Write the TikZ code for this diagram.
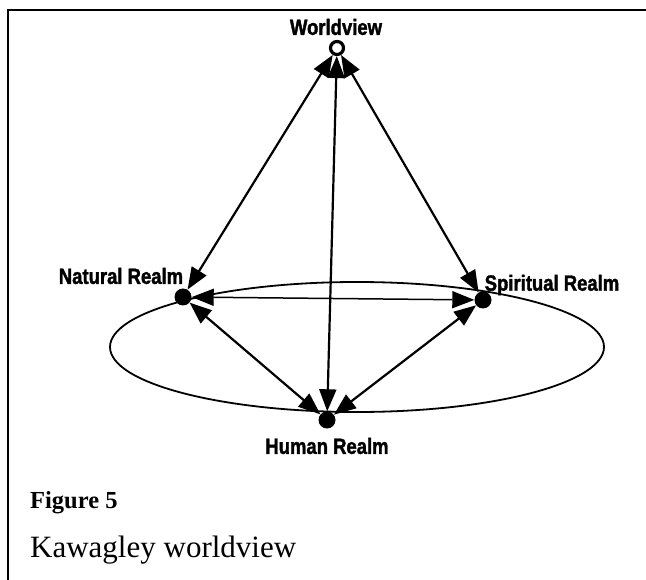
\documentclass[tikz,border=0pt]{standalone}
\usepackage{fontspec}
\setmainfont{Liberation Serif}
\newfontfamily\labfont[FakeStretch=0.84,FakeBold=1.6]{Liberation Sans}
\usetikzlibrary{arrows.meta}
\begin{document}
\begin{tikzpicture}[x=1pt,y=-1pt,
  lab/.style={font=\labfont\bfseries\fontsize{22}{24}\selectfont, inner sep=0pt},
  dot/.style={circle, fill=black, minimum size=17pt, inner sep=0pt},
  link/.style={line width=2.2pt, {Triangle[length=22pt,width=17pt]}-{Triangle[length=22pt,width=17pt]}}
]
\useasboundingbox (0,0) rectangle (646,580);
% frame
\draw[line width=2pt] (8,580) -- (8,10) -- (646,10);
% ellipse
\draw[line width=1.8pt] (357,347) ellipse [x radius=247, y radius=65];
% nodes
\node[circle, draw, line width=3.2pt, minimum size=13pt, inner sep=0pt, fill=white] (wv) at (337,48) {};
\node[dot] (nat) at (183,297) {};
\node[dot] (spi) at (483,300) {};
\node[dot] (hum) at (327,420) {};
% labels
\node[lab] (wvl) at (336,27) {Worldview};
\node[lab] (natl) at (121,276) {Natural Realm};
\node[lab] (spil) at (552,285) {Spiritual Realm};
\node[lab] (huml) at (327,446) {Human Realm};
% links
\draw[link] (wv) -- (nat);
\draw[link] (wv) -- (spi);
\draw[link] (wv) -- (hum);
\draw[link, line width=1.5pt] (nat) -- (spi);
\draw[link] (nat) -- (hum);
\draw[link] (spi) -- (hum);
% caption
\node[anchor=base west, inner sep=0pt, font=\bfseries\fontsize{24.5}{26}\selectfont] (fig) at (30,508) {Figure 5};
\node[anchor=base west, inner sep=0pt, font=\fontsize{31}{33}\selectfont] (cap) at (30,557) {Kawagley worldview};
\end{tikzpicture}
\end{document}
